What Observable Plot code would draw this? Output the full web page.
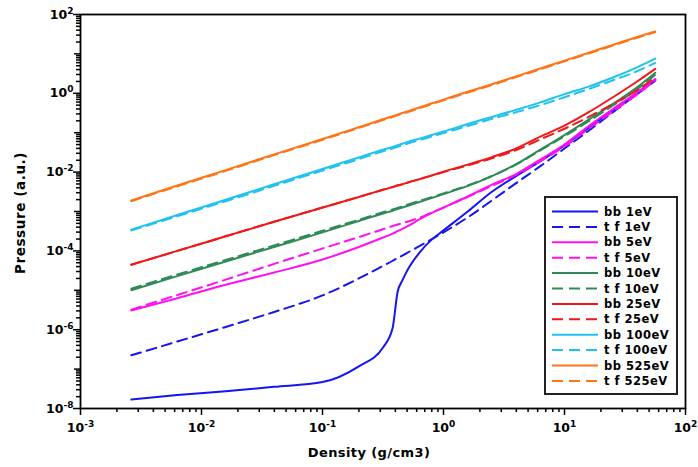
<!DOCTYPE html>
<html><head><meta charset="utf-8">
<script src="https://cdn.jsdelivr.net/npm/d3@7"></script>
<script src="https://cdn.jsdelivr.net/npm/@observablehq/plot@0.6"></script>
<style>
body{margin:0;background:#fff;}
#chart svg{display:block;}
</style>
</head><body><div id="chart"></div>
<script>
// log10 of density (g/cm3) sample points
const logDensity = [-2.58, -2.2, -1.8, -1.4, -1.0, -0.7, -0.5, -0.42, -0.38, -0.34, -0.3, -0.2, -0.1, 0, 0.2, 0.4, 0.6, 0.8, 1.0, 1.2, 1.4, 1.6, 1.75];
// log10 of pressure (a.u.) per series
const bb1   = [-7.77, -7.66, -7.56, -7.45, -7.33, -6.93, -6.45, -5.95, -5.05, -4.75, -4.50, -4.05, -3.72, -3.48, -3.00, -2.50, -2.10, -1.72, -1.32, -0.88, -0.42, 0.02, 0.35];
const tf1   = [-6.65, -6.30, -5.93, -5.55, -5.13, -4.70, -4.38, -4.25, -4.18, -4.12, -4.05, -3.88, -3.71, -3.53, -3.15, -2.72, -2.28, -1.85, -1.40, -0.95, -0.48, -0.02, 0.32];
const bb5   = [-5.51, -5.20, -4.86, -4.55, -4.22, -3.90, -3.66, -3.56, -3.50, -3.44, -3.38, -3.20, -3.04, -2.90, -2.62, -2.32, -2.05, -1.68, -1.30, -0.83, -0.40, 0.02, 0.36];
const tf5   = [-5.49, -5.12, -4.73, -4.33, -3.94, -3.65, -3.45, -3.37, -3.33, -3.30, -3.26, -3.16, -3.03, -2.90, -2.63, -2.35, -2.07, -1.72, -1.35, -0.90, -0.46, -0.03, 0.33];
const bb10  = [-5.00, -4.64, -4.27, -3.90, -3.53, -3.24, -3.05, -2.98, -2.94, -2.90, -2.86, -2.76, -2.66, -2.56, -2.35, -2.10, -1.80, -1.43, -1.06, -0.67, -0.27, 0.15, 0.52];
const tf10  = [-4.96, -4.60, -4.23, -3.86, -3.49, -3.21, -3.02, -2.95, -2.91, -2.87, -2.83, -2.73, -2.64, -2.54, -2.34, -2.10, -1.81, -1.45, -1.09, -0.71, -0.31, 0.10, 0.47];
const bb25  = [-4.35, -4.00, -3.63, -3.26, -2.90, -2.63, -2.45, -2.38, -2.34, -2.31, -2.27, -2.18, -2.09, -1.99, -1.81, -1.62, -1.40, -1.10, -0.82, -0.48, -0.10, 0.30, 0.62];
const tf25  = [-4.35, -4.00, -3.63, -3.26, -2.90, -2.63, -2.45, -2.38, -2.34, -2.31, -2.27, -2.18, -2.09, -2.00, -1.83, -1.65, -1.44, -1.17, -0.90, -0.60, -0.27, 0.08, 0.40];
const bb100 = [-3.46, -3.09, -2.70, -2.31, -1.92, -1.63, -1.43, -1.36, -1.32, -1.28, -1.24, -1.15, -1.06, -0.97, -0.78, -0.60, -0.42, -0.23, -0.02, 0.17, 0.40, 0.66, 0.88];
const tf100 = [-3.48, -3.12, -2.74, -2.35, -1.96, -1.67, -1.47, -1.40, -1.36, -1.32, -1.28, -1.19, -1.10, -1.01, -0.83, -0.65, -0.48, -0.30, -0.10, 0.11, 0.33, 0.56, 0.77];
const bb525 = [-2.72, -2.34, -1.95, -1.55, -1.16, -0.86, -0.66, -0.58, -0.54, -0.50, -0.46, -0.36, -0.26, -0.16, 0.04, 0.23, 0.43, 0.63, 0.83, 1.03, 1.23, 1.43, 1.57];
const tf525 = [-2.74, -2.36, -1.97, -1.57, -1.18, -0.88, -0.68, -0.60, -0.56, -0.52, -0.48, -0.38, -0.28, -0.18, 0.02, 0.21, 0.41, 0.61, 0.81, 1.01, 1.21, 1.41, 1.55];

const seriesLabels = ["bb 1eV", "t f 1eV", "bb 5eV", "t f 5eV", "bb 10eV", "t f 10eV", "bb 25eV", "t f 25eV", "bb 100eV", "t f 100eV", "bb 525eV", "t f 525eV"];
const seriesValues = [bb1, tf1, bb5, tf5, bb10, tf10, bb25, tf25, bb100, tf100, bb525, tf525];
const seriesColors = ["#1515f0", "#1515f0", "#ff10f0", "#ff10f0", "#2e8b57", "#2e8b57", "#f01818", "#f01818", "#1ec2f0", "#1ec2f0", "#ff7417", "#ff7417"];
const seriesDashed = [false, true, false, true, false, true, false, true, false, true, false, true];

const xMajor = [1e-3, 1e-2, 1e-1, 1e0, 1e1, 1e2];
const yMajor = [1e-8, 1e-6, 1e-4, 1e-2, 1e0, 1e2];
const yMid = [1e-7, 1e-5, 1e-3, 1e-1, 1e1];

const minorTicks = (lo, hi) => {
  const out = [];
  for (let e = lo; e < hi; e++) for (let m = 2; m <= 9; m++) out.push(m * Math.pow(10, e));
  return out;
};
const xMinor = minorTicks(-3, 2);
const yMinor = minorTicks(-8, 2);

const fmt = d => "10^" + Math.round(Math.log10(d));

const lineMarks = seriesLabels.map((name, i) => {
  const rows = logDensity.map((lx, j) => ({rho: Math.pow(10, lx), p: Math.pow(10, seriesValues[i][j])}));
  return Plot.line(rows, {
    x: "rho", y: "p", stroke: seriesColors[i], strokeWidth: 2,
    strokeDasharray: seriesDashed[i] ? "10,6" : null, curve: "monotone-x"
  });
});

const svg = Plot.plot({
  width: 698, height: 467,
  marginLeft: 80, marginRight: 13, marginTop: 14, marginBottom: 59,
  style: {fontFamily: "'DejaVu Sans', sans-serif", fontSize: "12.5px", fontWeight: "bold", background: "#fff", color: "#000"},
  x: {type: "log", domain: [1e-3, 1e2]},
  y: {type: "log", domain: [1e-8, 1e2]},
  marks: [
    ...lineMarks,
    Plot.axisX({ticks: xMinor, tickSize: 4, tickFormat: () => "", label: null, strokeWidth: 1.5}),
    Plot.axisY({ticks: yMinor, tickSize: 4, tickFormat: () => "", label: null, strokeWidth: 1.5}),
    Plot.axisY({ticks: yMid, tickSize: 6, tickFormat: () => "", label: null, strokeWidth: 1.5}),
    Plot.axisX({ticks: xMajor, tickSize: 7, tickPadding: 8, tickFormat: fmt, label: null, strokeWidth: 1.5}),
    Plot.axisY({ticks: yMajor, tickSize: 7, tickPadding: 0, tickFormat: fmt, label: null, strokeWidth: 1.5}),
    Plot.frame({stroke: "#000", strokeWidth: 1.8})
  ]
});

const ns = "http://www.w3.org/2000/svg";
svg.querySelectorAll("text").forEach(t => {
  const s = t.textContent;
  if (!s.includes("^")) return;
  const [b, e] = s.split("^");
  t.textContent = "";
  const tb = document.createElementNS(ns, "tspan"); tb.textContent = b; t.appendChild(tb);
  const te = document.createElementNS(ns, "tspan");
  te.setAttribute("dy", "-0.55em"); te.setAttribute("font-size", "0.72em");
  te.textContent = e; t.appendChild(te);
});

const root = d3.select(svg);
// axis titles
root.append("text").attr("x", 369).attr("y", 457).attr("text-anchor", "middle")
  .attr("font-size", 13).attr("font-weight", "bold").attr("letter-spacing", "0.4")
  .text("Density (g/cm3)");
root.append("text").attr("transform", "translate(25,213) rotate(-90)").attr("text-anchor", "middle")
  .attr("font-size", 13.5).attr("font-weight", "bold").attr("letter-spacing", "0.6")
  .text("Pressure (a.u.)");

// legend
const lg = root.append("g");
lg.append("rect").attr("x", 545).attr("y", 197).attr("width", 132).attr("height", 197)
  .attr("fill", "#fff").attr("stroke", "#222").attr("stroke-width", 2);
seriesLabels.forEach((name, i) => {
  const y = 211.5 + i * 15.4;
  lg.append("line").attr("x1", 552).attr("x2", 598).attr("y1", y).attr("y2", y)
    .attr("stroke", seriesColors[i]).attr("stroke-width", 2)
    .attr("stroke-dasharray", seriesDashed[i] ? "11,6" : null);
  lg.append("text").attr("x", 604).attr("y", y).attr("dy", "0.35em").attr("text-anchor", "start")
    .attr("font-size", 11.5).attr("font-weight", "bold").attr("letter-spacing", "0.5")
    .text(name);
});

document.getElementById("chart").appendChild(svg);
</script>
</body></html>
